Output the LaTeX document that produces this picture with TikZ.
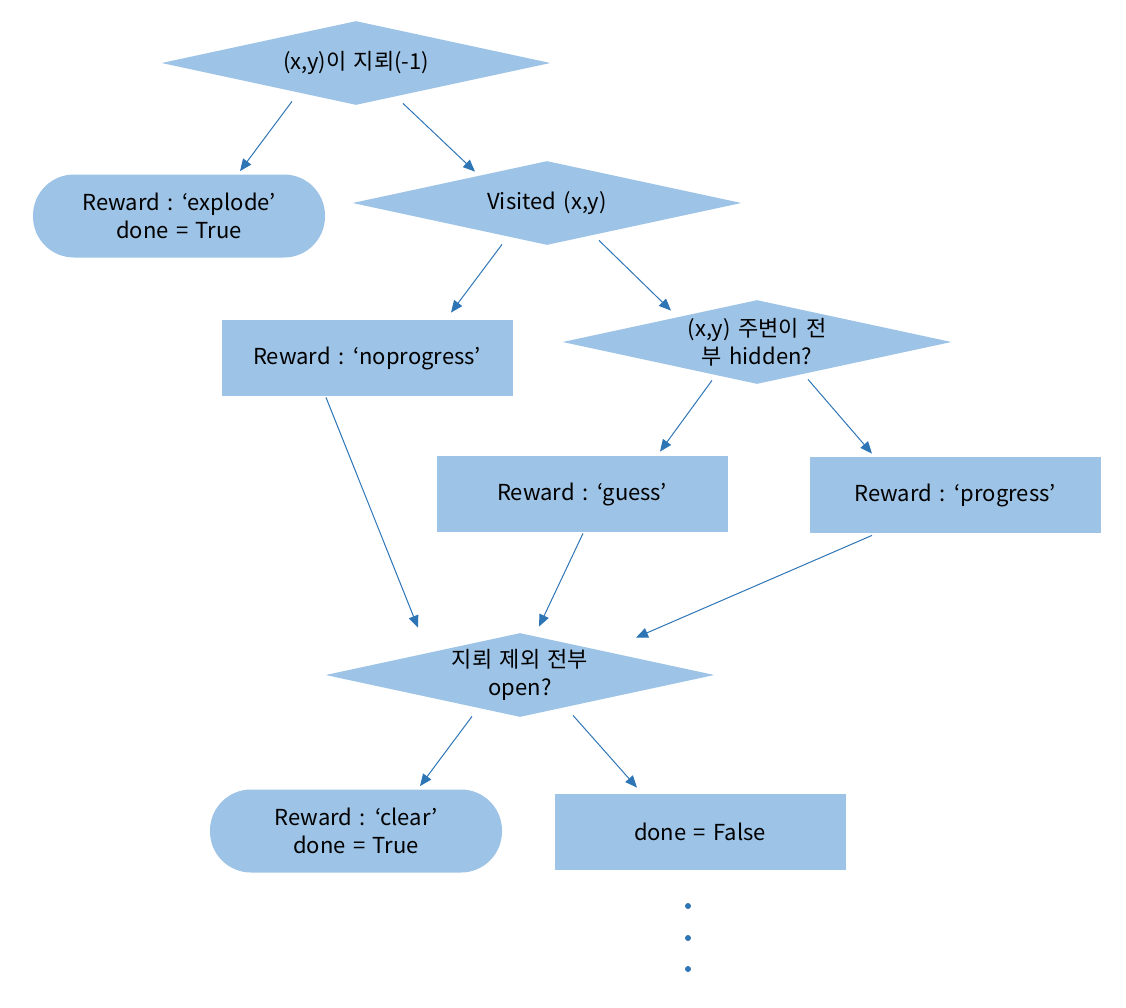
\documentclass[tikz,border=0pt]{standalone}
\usepackage{fontspec}
\setmainfont[WordSpace=1.5]{Noto Sans CJK KR}
\usetikzlibrary{shapes.geometric,arrows.meta}
\definecolor{boxblue}{HTML}{9DC3E6}
\definecolor{arrowblue}{HTML}{2E75B6}
\tikzset{
    decision/.style={diamond,fill=boxblue,inner sep=0pt,aspect=4.6,minimum width=194.5pt,minimum height=42pt,align=center},
    result/.style={rectangle,fill=boxblue,minimum width=145.5pt,minimum height=38pt,align=center},
    terminal/.style={rectangle,rounded corners=20.5pt,fill=boxblue,minimum width=146pt,minimum height=41.5pt,align=center},
    arr/.style={arrowblue,line width=0.5pt,-{Triangle[length=6pt,width=5pt]}}
}
\begin{document}
\begin{tikzpicture}[x=0.5pt,y=-0.5pt,font=\fontsize{11}{14}\selectfont]
    \useasboundingbox (0,0) rectangle (1126,1008);
    \node[decision] (mine) at (356,63) {(x,y)이 지뢰(-1)};
    \node[terminal] (explode) at (179,216) {Reward : ‘explode’\\done = True};
    \node[decision] (visited) at (547,203) {Visited (x,y)};
    \node[result] (noprog) at (367,358) {Reward : ‘noprogress’};
    \node[decision] (hidden) at (757,342) {(x,y) 주변이 전\\부 hidden?};
    \node[result] (guess) at (582,494) {Reward : ‘guess’};
    \node[result] (progress) at (955,495) {Reward : ‘progress’};
    \node[decision] (openall) at (520,675) {지뢰 제외 전부\\open?};
    \node[terminal] (clear) at (356,831) {Reward : ‘clear’\\done = True};
    \node[result] (notdone) at (700,832) {done = False};
    \draw[arr] ([shift={(-64,-4)}]mine.south) -- ([shift={(61,-3)}]explode.north);
    \draw[arr] ([shift={(47,-2)}]mine.south) -- ([shift={(-72,11)}]visited.north);
    \draw[arr] ([shift={(-45,-1)}]visited.south) -- ([shift={(84,-7)}]noprog.north);
    \draw[arr] ([shift={(52,-5)}]visited.south) -- ([shift={(-86,11)}]hidden.north);
    \draw[arr] ([shift={(-41,1)}]noprog.south) -- ([shift={(-102,-5)}]openall.north);
    \draw[arr] ([shift={(-45,-4)}]hidden.south) -- ([shift={(78,-4)}]guess.north);
    \draw[arr] ([shift={(51,-5)}]hidden.south) -- ([shift={(-83,-3)}]progress.north);
    \draw[arr] ([shift={(1,1)}]guess.south) -- ([shift={(19,-6)}]openall.north);
    \draw[arr] ([shift={(-83,2)}]progress.south) -- ([shift={(116,5)}]openall.north);
    \draw[arr] ([shift={(-48,-1)}]openall.south) -- ([shift={(64,-3)}]clear.north);
    \draw[arr] ([shift={(53,-2)}]openall.south) -- ([shift={(-63,-6)}]notdone.north);
    \foreach \y in {906,938,969}
        \fill[arrowblue] (688,\y) circle (1.5pt);
\end{tikzpicture}
\end{document}
